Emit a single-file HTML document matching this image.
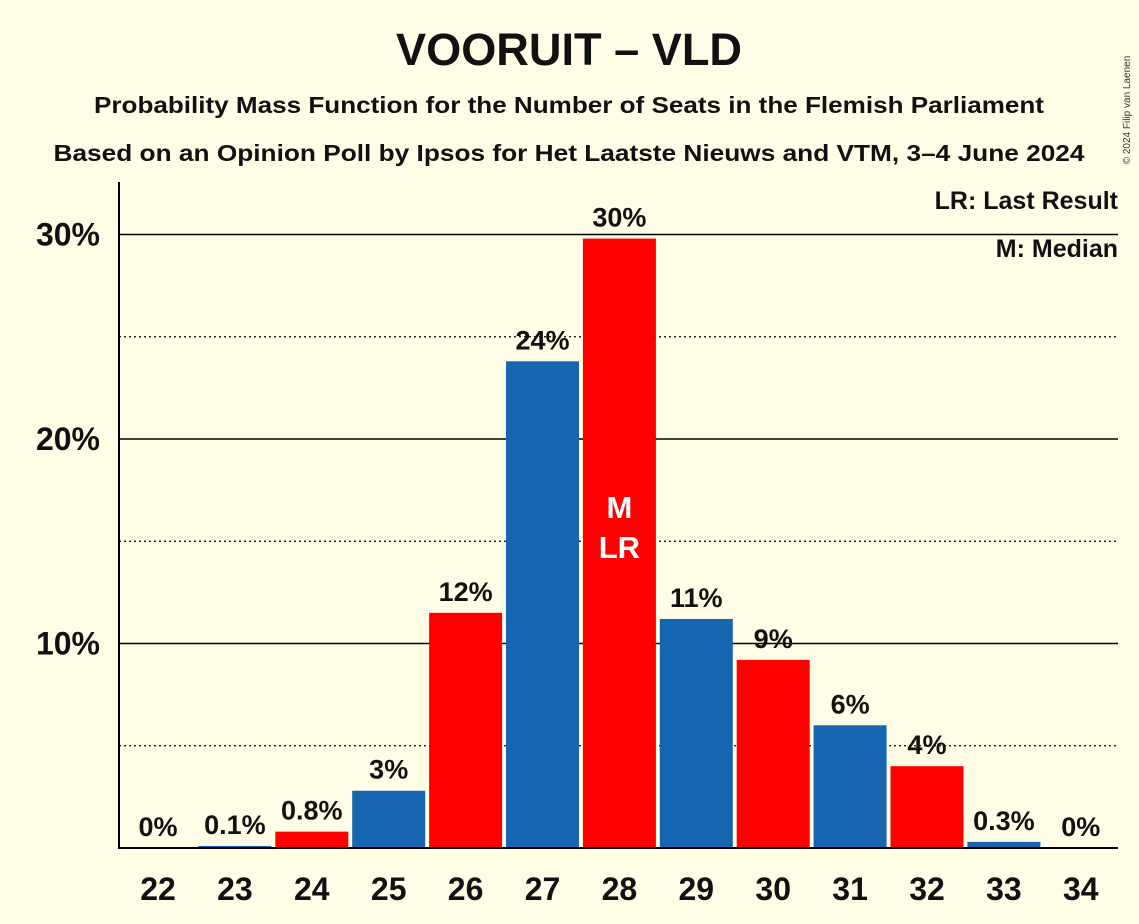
<!DOCTYPE html>
<html><head><meta charset="utf-8"><style>
body{margin:0;background:#fffde6;}
svg{display:block;font-family:"Liberation Sans",sans-serif;font-weight:bold;}
</style></head><body>
<svg id="c" width="1139" height="924">
<rect width="1139" height="924" fill="#fffde6"/>
<text x="569" y="65" font-size="45" text-anchor="middle" fill="#111" textLength="346" lengthAdjust="spacingAndGlyphs">VOORUIT – VLD</text>
<text x="569" y="113" font-size="23" text-anchor="middle" fill="#111" textLength="950" lengthAdjust="spacingAndGlyphs">Probability Mass Function for the Number of Seats in the Flemish Parliament</text>
<text x="569" y="161" font-size="23" text-anchor="middle" fill="#111" textLength="1031" lengthAdjust="spacingAndGlyphs">Based on an Opinion Poll by Ipsos for Het Laatste Nieuws and VTM, 3–4 June 2024</text>
<text x="1130" y="110" font-size="10" font-weight="normal" fill="#333" transform="rotate(-90 1130 110)" text-anchor="middle">© 2024 Filip van Laenen</text>
<g id="grid"></g><g id="bars"></g><g id="labels"></g>
<line x1="119" y1="182" x2="119" y2="849" stroke="#000" stroke-width="2"/>
<line x1="118" y1="848" x2="1118" y2="848" stroke="#000" stroke-width="2"/>
<text x="1118" y="209" font-size="25" text-anchor="end" fill="#111">LR: Last Result</text>
<text x="1118" y="257" font-size="25" text-anchor="end" fill="#111">M: Median</text>
</svg>
<script>
const seats=[22,23,24,25,26,27,28,29,30,31,32,33,34];
const probs=[0,0.1,0.8,2.8,11.5,23.8,29.8,11.2,9.2,6.0,4.0,0.3,0];
const printed=["0%","0.1%","0.8%","3%","12%","24%","30%","11%","9%","6%","4%","0.3%","0%"];
const yTicks=[10,20,30];
const yTickLabels=["10%","20%","30%"];
const dotted=[5,15,25];
const medianSeat=28, lastResultSeat=28;
const NS="http://www.w3.org/2000/svg";
const y=v=>848-v*20.45;
const x=i=>158+i*76.9;
function mk(t,a,p,txt){const e=document.createElementNS(NS,t);for(const k in a)e.setAttribute(k,a[k]);if(txt!==undefined)e.textContent=txt;p.appendChild(e);return e;}
const g=document.getElementById('grid'),b=document.getElementById('bars'),l=document.getElementById('labels'),svg=document.getElementById('c');
yTicks.forEach((v,i)=>{
 const ln=mk('line',{x1:119,x2:1118,y1:y(v),y2:y(v),stroke:'#000','stroke-width':1.5},g);
 
 
 const t=mk('text',{x:100,y:y(v)+11,'font-size':32,'text-anchor':'end',fill:'#111'},svg,yTickLabels[i]);
 
 
});
dotted.forEach(v=>{
 const ln=mk('line',{x1:119,x2:1118,y1:y(v),y2:y(v),stroke:'#000','stroke-width':1.2,'stroke-dasharray':'2,3'},g);
 
 
});
seats.forEach((s,i)=>{
 const col=(i%2===1)?'#1565b0':'#ff0000';
 const r=mk('rect',{x:x(i)-36.5,y:y(probs[i]),width:73,height:848-y(probs[i]),fill:col},b);
 
 
 const t=mk('text',{x:x(i),y:y(probs[i])-12,'font-size':27,'text-anchor':'middle',fill:'#111'},l,printed[i]);
 
 
 const xt=mk('text',{x:x(i),y:900,'font-size':32,'text-anchor':'middle',fill:'#111'},svg,String(s));
 
 
});
const mi=seats.indexOf(medianSeat);
const m=mk('text',{x:x(mi),y:518,'font-size':31,'text-anchor':'middle',fill:'#fff'},l,'M');


const lr=mk('text',{x:x(seats.indexOf(lastResultSeat)),y:558,'font-size':31,'text-anchor':'middle',fill:'#fff'},l,'LR');


</script>
</body></html>
